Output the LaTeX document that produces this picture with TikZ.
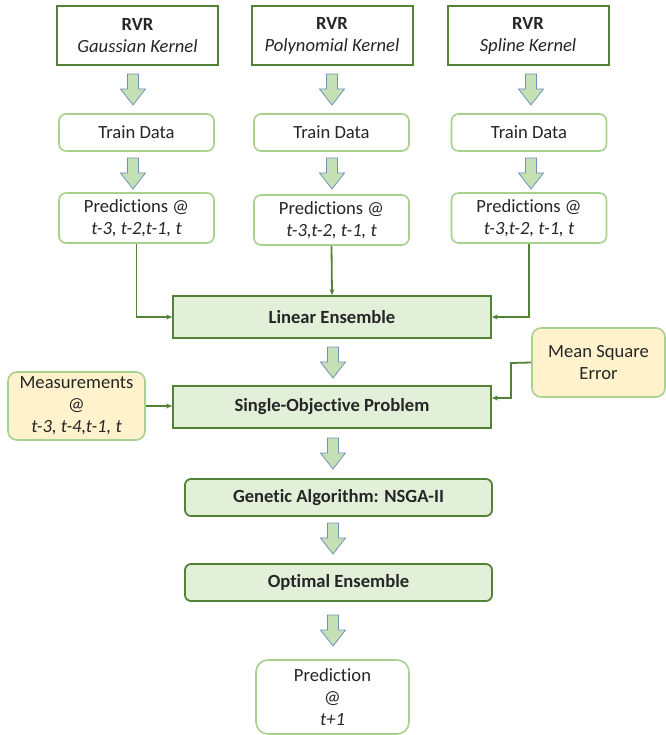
\documentclass[tikz,border=0pt]{standalone}
\usepackage{fontspec}
\setmainfont{Carlito}[Ligatures={NoCommon,NoRequired,NoContextual}]
\usetikzlibrary{arrows.meta}
\definecolor{dkgreen}{HTML}{548235}
\definecolor{ltgreen}{HTML}{A9D18E}
\definecolor{boxfill}{HTML}{E2F0D9}
\definecolor{arrfill}{HTML}{C5E0B4}
\definecolor{arrline}{HTML}{7092BE}
\definecolor{yellowfill}{HTML}{FFF2CC}
\definecolor{txt}{HTML}{262626}
\tikzset{
  base/.style={align=center, font=\fontsize{18.6}{22}\selectfont, text=txt, inner sep=0pt},
  rvrbox/.style={base, draw=dkgreen, fill=white, line width=2pt, minimum width=161pt, minimum height=59pt},
  lightbox/.style={base, draw=ltgreen, fill=white, line width=1.6pt, rounded corners=7pt, minimum width=155pt},
  stagebox/.style={base, font=\fontsize{18.6}{22}\selectfont\bfseries, draw=dkgreen, fill=boxfill, line width=1.8pt, minimum width=318pt, minimum height=42pt},
  roundstage/.style={stagebox, rounded corners=6pt, minimum width=307pt, minimum height=37pt},
  yellowbox/.style={base, draw=ltgreen, fill=yellowfill, line width=1.6pt, rounded corners=9pt},
  arrowbox/.style={draw=arrline, fill=arrfill, line width=0.8pt, line join=miter},
  conn/.style={draw=dkgreen, line width=1.8pt, -{Stealth[length=6pt,width=5pt]}},
  darrow/.pic={\path[arrowbox] (-5.5,0) -- (5.5,0) -- (5.5,15) -- (12.5,15) -- (0,31) -- (-12.5,15) -- (-5.5,15) -- cycle;}
}
\begin{document}
\begin{tikzpicture}[x=1pt,y=-1pt]
\useasboundingbox (0,0) rectangle (665,735);

% top RVR boxes
\node[rvrbox] (r1) at (137.5,35.5) {\textbf{RVR}\\\textit{Gaussian Kernel}};
\node[rvrbox] (r2) at (332,35.5) {\textbf{RVR}\\\textit{Polynomial Kernel}};
\node[rvrbox] (r3) at (528,35.5) {\textbf{RVR}\\\textit{Spline Kernel}};

% block arrows row 1
\pic at (133,74) {darrow};
\pic at (332,74) {darrow};
\pic at (531,74) {darrow};

% train data
\node[lightbox, minimum height=37pt] (t1) at (136.5,132.5) {Train Data};
\node[lightbox, minimum height=37pt] (t2) at (331.5,132.5) {Train Data};
\node[lightbox, minimum height=37pt] (t3) at (529,132.5) {Train Data};

% block arrows row 2
\pic at (133,158) {darrow};
\pic at (332,158) {darrow};
\pic at (531,158) {darrow};

% predictions
\node[lightbox, minimum height=50pt] (p1) at (136.5,218) {Predictions @\\\textit{t-3, t-2,t-1, t}};
\node[lightbox, minimum height=50pt] (p2) at (331.5,220) {Predictions @\\\textit{t-3,t-2, t-1, t}};
\node[lightbox, minimum height=50pt] (p3) at (529,218) {Predictions @\\\textit{t-3,t-2, t-1, t}};

% linear ensemble
\node[stagebox] (le) at (332,317) {Linear Ensemble};
\draw[conn] (p1.south) |- (le.west);
\draw[conn] (p2.south) -- (le.north);
\draw[conn] (p3.south) |- (le.east);

\pic at (333,347) {darrow};

% single objective
\node[stagebox] (so) at (332,407) {Single-Objective Problem};

\node[yellowbox, minimum width=133pt, minimum height=69pt] (mse) at (598.5,362.5) {Mean Square\\Error};
\node[yellowbox, minimum width=137pt, minimum height=68pt] (meas) at (76.5,406) {Measurements\\@\\\textit{t-3, t-4,t-1, t}};

\coordinate (mseturn) at (511,363);
\draw[conn] (mse.west) -- (mseturn) |- ([yshift=9pt]so.east);
\draw[conn] (meas.east) -- (meas.east -| so.west);

\pic at (333,438) {darrow};

\node[roundstage] (ga) at (338.5,497.5) {Genetic Algorithm: NSGA-II};

\pic at (333,523) {darrow};

\node[roundstage] (oe) at (338.5,582.5) {Optimal Ensemble};

\pic at (333,615) {darrow};

\node[lightbox, minimum width=153pt, minimum height=74pt, rounded corners=12pt] (pred) at (332.5,697) {Prediction\\@\\\textit{t+1}};
\end{tikzpicture}
\end{document}
